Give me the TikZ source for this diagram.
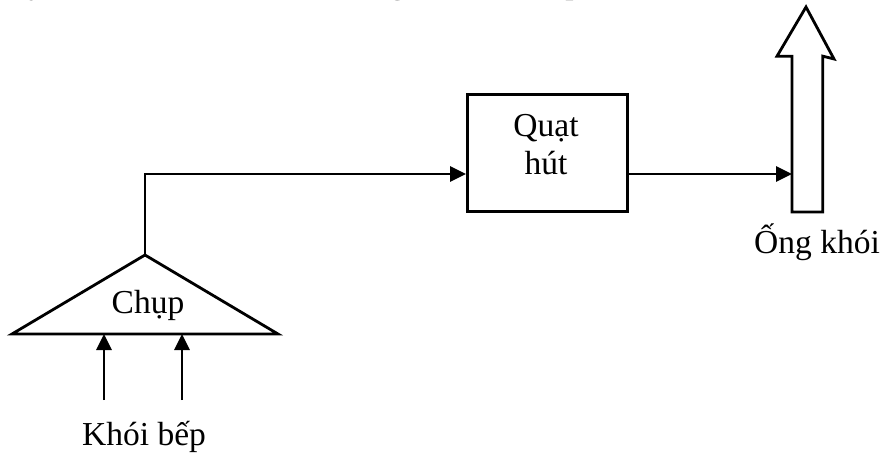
\documentclass[tikz,border=0pt]{standalone}
\usepackage{fontspec}
\setmainfont{Liberation Serif}
\usetikzlibrary{arrows.meta}

\begin{document}
\begin{tikzpicture}[x=1pt, y=-1pt,
    line width=2.8pt,
    label/.style={inner sep=0pt, anchor=base, font=\fontsize{33.5}{40}\selectfont},
    flow/.style={-{Triangle[length=16pt, width=15pt]}, line cap=butt},
    blockbox/.style={draw, inner sep=0pt, minimum width=160pt, minimum height=117pt, anchor=north west}]

  % canvas
  \useasboundingbox (0,0) rectangle (886,454);

  % heading line above the diagram (only its lower edge falls on the page)
  \begin{scope}
    \clip (0,0) rectangle (886,454);
    \node[label, anchor=base west] (heading) at (-12,-6.5) {Hãy vẽ sơ đồ của một hệ thống hút khói bếp};
  \end{scope}

  % hood
  \coordinate (hoodL) at (12,334);
  \coordinate (hoodR) at (278,334);
  \coordinate (apex)  at (145,255);
  \draw[line join=miter] (hoodL) -- (apex) -- (hoodR) -- cycle;
  \node[label] (hood) at (148,313) {Chụp};

  % kitchen smoke rising into the hood
  \coordinate (smokeA) at (104,400);
  \coordinate (smokeB) at (182,400);
  \draw[flow] (smokeA) -- (smokeA |- hoodL);
  \draw[flow] (smokeB) -- (smokeB |- hoodL);
  \node[label] (smoke) at (144,445) {Khói bếp};

  % exhaust fan
  \node[blockbox] (fan) at (466,93) {};
  \node[label] (fanA) at (546,137) {Quạt};
  \node[label] (fanB) at (546,175) {hút};

  % chimney (hollow upward arrow)
  \node[inner sep=0pt, minimum width=28pt, minimum height=153pt, anchor=south west] (shaft) at (792,212) {};
  \draw[line join=miter]
    (shaft.south west) -- (shaft.north west) -- ++(-15,0) -- (806,7)
    -- (834,59) -- (shaft.north east) -- (shaft.south east) -- cycle;
  \node[label] (chimney) at (817,254) {Ống khói};

  % duct: hood -> fan -> chimney
  \coordinate (duct) at (145,174);
  \draw[flow, line join=miter] (apex) -- (duct) -- (duct -| fan.west);
  \draw[flow] (duct -| fan.east) -- (duct -| shaft.west);
\end{tikzpicture}
\end{document}
